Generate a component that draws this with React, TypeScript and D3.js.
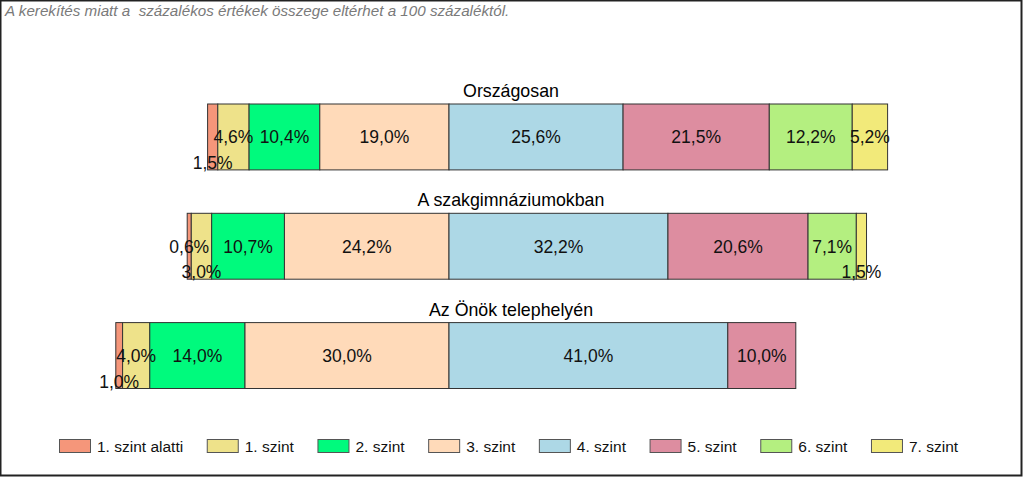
import { useEffect, useRef } from "react";
import * as d3 from "d3";

const categories = ["Országosan", "A szakgimnáziumokban", "Az Önök telephelyén"];
const levels = [
  "1. szint alatti",
  "1. szint",
  "2. szint",
  "3. szint",
  "4. szint",
  "5. szint",
  "6. szint",
  "7. szint",
];
const colors = [
  "#F5967A",
  "#EEE28A",
  "#00FA7D",
  "#FFDAB9",
  "#ADD8E6",
  "#DD8DA0",
  "#B4EF80",
  "#F2EA7A",
];
const orszagos = [1.5, 4.6, 10.4, 19.0, 25.6, 21.5, 12.2, 5.2];
const szakgimn = [0.6, 3.0, 10.7, 24.2, 32.2, 20.6, 7.1, 1.5];
const telephely = [1.0, 4.0, 14.0, 30.0, 41.0, 10.0, 0, 0];
const seriesValues = [orszagos, szakgimn, telephely];
// labels pushed to the bottom edge of the bar to avoid overlap
const lowLabels = [[0], [1, 7], [0]];
const note = "A kerekítés miatt a  százalékos értékek összege eltérhet a 100 százaléktól.";

const W = 1024;
const H = 478;
const FONT = "Liberation Sans, Arial, sans-serif";

export default function App() {
  const svgRef = useRef<SVGSVGElement>(null);

  useEffect(() => {
    const el = svgRef.current;
    if (!el) return;
    const svg = d3.select(el);
    svg.selectAll("*").remove();

    // diverging: levels below 4 go left from zero, 4 and above go right
    const xs = d3.scaleLinear().domain([-50, 85]).range([449 - 340, 449 + 578]);
    const ys = d3
      .scaleBand()
      .domain(categories)
      .range([104, 388.5])
      .paddingInner(0.397)
      .paddingOuter(0);
    const bh = ys.bandwidth();

    // frame
    svg
      .append("rect")
      .attr("x", 0.5)
      .attr("y", 0.5)
      .attr("width", W - 3)
      .attr("height", H - 3)
      .attr("fill", "#fff")
      .attr("stroke", "#222")
      .attr("stroke-width", 2);

    svg
      .append("text")
      .attr("x", 5)
      .attr("y", 16)
      .attr("fill", "#7a7a7a")
      .attr("font-style", "italic")
      .attr("xml:space", "preserve")
      .style("white-space", "pre")
      .style("font-size", "15.2px")
      .style("font-family", FONT)
      .text(note);

    categories.forEach((cat, ci) => {
      const vals = seriesValues[ci];
      const y0 = ys(cat)!;
      const segs: { v: number; a: number; b: number; i: number }[] = [];
      let left = -d3.sum(vals.slice(0, 4));
      vals.forEach((v, i) => {
        segs.push({ v, a: left, b: left + v, i });
        left += v;
      });

      svg
        .append("text")
        .attr("x", 511)
        .attr("y", y0 - 7)
        .attr("text-anchor", "middle")
        .attr("fill", "#000")
        .style("font-size", "17.8px")
        .style("font-family", FONT)
        .text(cat);

      const g = svg.append("g");
      g.selectAll("rect")
        .data(segs.filter((s) => s.v > 0))
        .enter()
        .append("rect")
        .attr("x", (d) => xs(d.a))
        .attr("y", y0)
        .attr("width", (d) => xs(d.b) - xs(d.a))
        .attr("height", bh)
        .attr("fill", (d) => colors[d.i])
        .attr("stroke", "#333")
        .attr("stroke-width", 1);

      g.selectAll("text")
        .data(segs.filter((s) => s.v > 0))
        .enter()
        .append("text")
        .attr("x", (d) => xs((d.a + d.b) / 2))
        .attr("y", (d) => (lowLabels[ci].includes(d.i) ? y0 + bh - 1 : y0 + bh / 2 + 6.5))
        .attr("text-anchor", "middle")
        .attr("fill", "#111")
        .style("font-size", "17.5px")
        .style("font-family", FONT)
        .text((d) => d.v.toFixed(1).replace(".", ",") + "%");
    });

    // legend
    const ctx = document.createElement("canvas").getContext("2d")!;
    ctx.font = "15.5px " + FONT;
    let lx = 59;
    const legend = svg.append("g");
    levels.forEach((lv, i) => {
      legend
        .append("rect")
        .attr("x", lx + 0.5)
        .attr("y", 439.5)
        .attr("width", 31)
        .attr("height", 13)
        .attr("fill", colors[i])
        .attr("stroke", "#555");
      legend
        .append("text")
        .attr("x", lx + 38)
        .attr("y", 452)
        .attr("fill", "#111")
        .style("font-size", "15.5px")
        .style("font-family", FONT)
        .text(lv);
      lx += 38 + ctx.measureText(lv).width + 23.6;
    });
  }, []);

  return (
    <svg
      ref={svgRef}
      width={W}
      height={H}
      style={{ position: "absolute", left: 0, top: 0, background: "#fff" }}
    />
  );
}
